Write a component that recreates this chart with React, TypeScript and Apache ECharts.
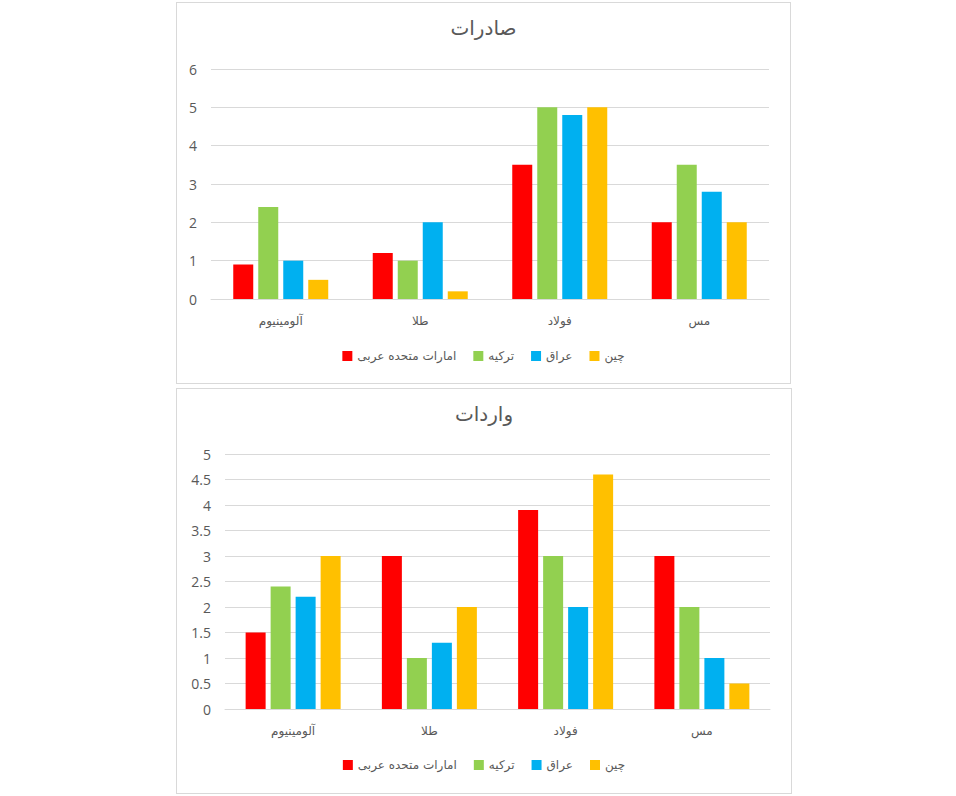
import React, { useEffect, useRef } from "react";
import * as echarts from "echarts";

const categories = ["آلومینیوم", "طلا", "فولاد", "مس"];
const seriesNames = ["امارات متحده عربی", "ترکیه", "عراق", "چین"];
const colors = ["#FF0000", "#92D050", "#00B0F0", "#FFC000"];

const exportUAE = [0.9, 1.2, 3.5, 2.0];
const exportTurkey = [2.4, 1.0, 5.0, 3.5];
const exportIraq = [1.0, 2.0, 4.8, 2.8];
const exportChina = [0.5, 0.2, 5.0, 2.0];

const importUAE = [1.5, 3.0, 3.9, 3.0];
const importTurkey = [2.4, 1.0, 3.0, 2.0];
const importIraq = [2.2, 1.3, 2.0, 1.0];
const importChina = [3.0, 2.0, 4.6, 0.5];

const FONT = "'DejaVu Sans', 'Liberation Sans', sans-serif";

function buildOption(
  title: string,
  data: number[][],
  max: number,
  interval: number,
  grid: any,
  legendTop: number
) {
  return {
    animation: false,
    title: {
      text: title,
      left: "center",
      top: 10,
      textStyle: { fontFamily: FONT, fontSize: 20, fontWeight: "normal", color: "#595959" },
    },
    legend: {
      data: seriesNames,
      top: legendTop,
      left: "center",
      itemWidth: 10,
      itemHeight: 10,
      itemGap: 17,
      icon: "rect",
      textStyle: { fontFamily: FONT, fontSize: 12, color: "#595959" },
    },
    grid,
    xAxis: {
      type: "category",
      data: categories,
      axisLine: { lineStyle: { color: "#d9d9d9" } },
      axisTick: { show: false },
      axisLabel: { fontFamily: FONT, fontSize: 12, color: "#595959", margin: 16 },
    },
    yAxis: {
      type: "value",
      min: 0,
      max,
      interval,
      axisLine: { show: false },
      axisTick: { show: false },
      splitLine: { lineStyle: { color: "#d9d9d9" } },
      axisLabel: { fontFamily: "'Open Sans', 'Liberation Sans', sans-serif", fontSize: 14, color: "#595959", margin: 14 },
    },
    series: data.map((d, i) => ({
      name: seriesNames[i],
      type: "bar",
      data: d,
      barWidth: 20,
      barGap: "25%",
      itemStyle: { color: colors[i] },
    })),
  };
}

function Chart({ option, width, height }: { option: any; width: number; height: number }) {
  const ref = useRef<HTMLDivElement>(null);
  useEffect(() => {
    const c = echarts.init(ref.current!, undefined, { renderer: "svg" });
    c.setOption(option);
    return () => c.dispose();
  }, [option]);
  return <div ref={ref} style={{ width, height }} />;
}

const topOption = buildOption(
  "صادرات",
  [exportUAE, exportTurkey, exportIraq, exportChina],
  6,
  1,
  { left: 34, right: 21, top: 66, bottom: 84 },
  342
);

const bottomOption = buildOption(
  "واردات",
  [importUAE, importTurkey, importIraq, importChina],
  5,
  0.5,
  { left: 48, right: 21, top: 65, bottom: 84 },
  365
);

export default function App() {
  const boxStyle = (left: number, top: number, w: number, h: number): React.CSSProperties => ({
    position: "absolute",
    left,
    top,
    width: w,
    height: h,
    border: "1px solid #d9d9d9",
    boxSizing: "border-box",
    background: "#fff",
  });
  return (
    <div style={{ position: "absolute", left: 0, top: 0, width: 956, height: 796, background: "#fff" }}>
      <div style={boxStyle(176, 2, 615, 382)}>
        <Chart option={topOption} width={613} height={380} />
      </div>
      <div style={boxStyle(176, 388, 616, 406)}>
        <Chart option={bottomOption} width={614} height={404} />
      </div>
    </div>
  );
}
